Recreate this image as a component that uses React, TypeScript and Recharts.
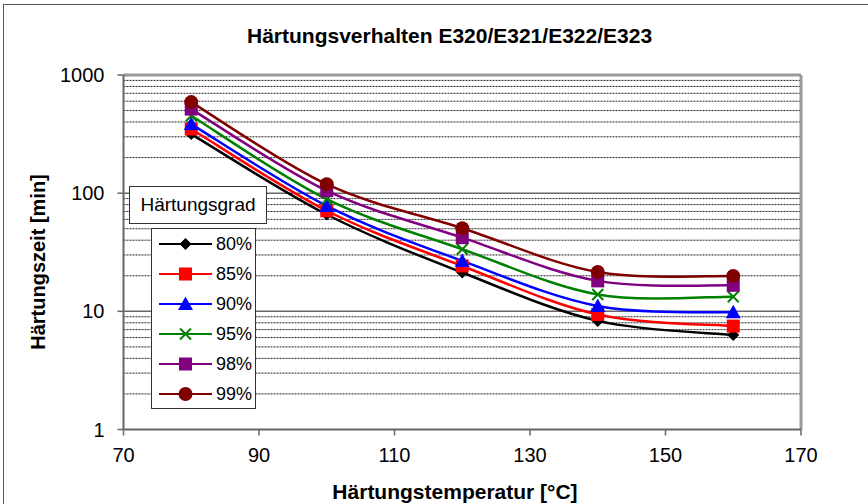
import { LineChart, Line, XAxis, YAxis, ReferenceLine } from "recharts";

const temperatures = [80, 100, 120, 140, 160];
const grad80 = [316, 66, 21.3, 8.3, 6.3];
const grad85 = [349, 71, 24.2, 9.4, 7.5];
const grad90 = [384, 78, 26.7, 11.1, 9.8];
const grad95 = [452, 89, 33.5, 13.9, 13.3];
const grad98 = [515, 105, 42, 18.1, 16.6];
const grad99 = [590, 119, 50.5, 21.5, 19.9];

const xTicks = [70, 90, 110, 130, 150, 170];
const yTicks = [1, 10, 100, 1000];
const majorGrid = [10, 100];
const minorGrid = [
  2, 3, 4, 5, 6, 7, 8, 9, 20, 30, 40, 50, 60, 70, 80, 90, 200, 300, 400, 500,
  600, 700, 800, 900,
];

const series = [
  { key: "g80", name: "80%", values: grad80, color: "#000000", shape: "diamond" },
  { key: "g85", name: "85%", values: grad85, color: "#ff0000", shape: "square" },
  { key: "g90", name: "90%", values: grad90, color: "#0000ff", shape: "triangle" },
  { key: "g95", name: "95%", values: grad95, color: "#008000", shape: "cross" },
  { key: "g98", name: "98%", values: grad98, color: "#800080", shape: "square" },
  { key: "g99", name: "99%", values: grad99, color: "#800000", shape: "circle" },
];

const data = temperatures.map((t, i) => {
  const row: Record<string, number> = { t };
  series.forEach((s) => (row[s.key] = s.values[i]));
  return row;
});

// excel-like smoothing: catmull-rom through the points
function excelSmooth(context: any) {
  let pts: number[][] = [];
  return {
    areaStart() {},
    areaEnd() {},
    lineStart() {
      pts = [];
    },
    point(x: number, y: number) {
      pts.push([+x, +y]);
    },
    lineEnd() {
      const n = pts.length;
      if (!n) return;
      context.moveTo(pts[0][0], pts[0][1]);
      for (let i = 0; i < n - 1; i++) {
        const p0 = pts[Math.max(i - 1, 0)];
        const p1 = pts[i];
        const p2 = pts[i + 1];
        const p3 = pts[Math.min(i + 2, n - 1)];
        context.bezierCurveTo(
          p1[0] + (p2[0] - p0[0]) / 6,
          p1[1] + (p2[1] - p0[1]) / 6,
          p2[0] - (p3[0] - p1[0]) / 6,
          p2[1] - (p3[1] - p1[1]) / 6,
          p2[0],
          p2[1]
        );
      }
    },
  };
}

function Marker({ cx, cy, shape, color }: any) {
  if (cx == null || cy == null) return null;
  switch (shape) {
    case "diamond":
      return (
        <polygon
          points={`${cx},${cy - 6} ${cx + 6},${cy} ${cx},${cy + 6} ${cx - 6},${cy}`}
          fill={color}
        />
      );
    case "square":
      return <rect x={cx - 6.5} y={cy - 6.5} width={13} height={13} fill={color} />;
    case "triangle":
      return (
        <polygon
          points={`${cx},${cy - 7.5} ${cx + 7.5},${cy + 6} ${cx - 7.5},${cy + 6}`}
          fill={color}
        />
      );
    case "cross":
      return (
        <path
          d={`M${cx - 5.5},${cy - 5.5}L${cx + 5.5},${cy + 5.5}M${cx + 5.5},${cy - 5.5}L${cx - 5.5},${cy + 5.5}`}
          stroke={color}
          strokeWidth={2}
          fill="none"
        />
      );
    default:
      return <circle cx={cx} cy={cy} r={7} fill={color} />;
  }
}

const tickFont = { fill: "#000", fontSize: 20, fontFamily: "Liberation Sans" };
const titleFont = {
  fontFamily: "Liberation Sans",
  fontWeight: 700,
  fontSize: 21,
  color: "#000",
  lineHeight: "21px",
  whiteSpace: "nowrap" as const,
};

function LegendBox() {
  return (
    <>
      <div
        style={{
          position: "absolute",
          left: 129,
          top: 186,
          width: 136,
          height: 36,
          border: "1px solid #333",
          background: "#fff",
          fontFamily: "Liberation Sans",
          fontSize: 19,
          lineHeight: "36px",
          textAlign: "center",
        }}
      >
        Härtungsgrad
      </div>
      <div
        style={{
          position: "absolute",
          left: 151,
          top: 228,
          width: 103,
          height: 179,
          border: "1px solid #333",
          background: "#fff",
          fontFamily: "Liberation Sans",
          fontSize: 18,
        }}
      >
        {series.map((s) => (
          <div key={s.key} style={{ display: "flex", alignItems: "center", height: 30 }}>
            <svg width={64} height={30} style={{ display: "block" }}>
              <line x1={7} x2={60} y1={15} y2={15} stroke={s.color} strokeWidth={2} />
              <Marker cx={33.5} cy={15} shape={s.shape} color={s.color} />
            </svg>
            <span>{s.name}</span>
          </div>
        ))}
      </div>
    </>
  );
}

export default function App() {
  return (
    <div
      style={{
        position: "absolute",
        left: 0,
        top: 0,
        width: 868,
        height: 504,
        background: "#fff",
        overflow: "hidden",
      }}
    >
      <div
        style={{
          position: "absolute",
          left: 3,
          top: 4,
          width: 900,
          height: 600,
          borderLeft: "1.5px solid #555",
          borderTop: "1.5px solid #555",
        }}
      />
      <LineChart
        width={868}
        height={504}
        data={data}
        margin={{ top: 75, right: 67, bottom: 0, left: 0 }}
        style={{ position: "absolute", left: 0, top: 0 }}
      >
        <XAxis
          dataKey="t"
          type="number"
          domain={[70, 170]}
          ticks={xTicks}
          allowDataOverflow
          height={74.5}
          tick={tickFont}
          tickSize={6}
          tickMargin={12}
          axisLine={{ stroke: "#666", strokeWidth: 2 }}
          tickLine={{ stroke: "#666", strokeWidth: 1.5 }}
        />
        <YAxis
          type="number"
          scale="log"
          domain={[1, 1000]}
          ticks={yTicks}
          allowDataOverflow
          width={123.5}
          tick={tickFont}
          tickSize={6}
          tickMargin={13}
          axisLine={{ stroke: "#666", strokeWidth: 2 }}
          tickLine={{ stroke: "#666", strokeWidth: 1.5 }}
        />
        {minorGrid.map((v) => (
          <ReferenceLine key={v} y={v} stroke="#222" strokeWidth={1} strokeDasharray="2 1" />
        ))}
        {majorGrid.map((v) => (
          <ReferenceLine key={v} y={v} stroke="#666" strokeWidth={1.5} />
        ))}
        <ReferenceLine y={1000} stroke="#9a9a9a" strokeWidth={3} />
        <ReferenceLine x={170} stroke="#9a9a9a" strokeWidth={3} />
        {series.map((s) => (
          <Line
            key={s.key}
            dataKey={s.key}
            type={excelSmooth as any}
            stroke={s.color}
            strokeWidth={2.5}
            isAnimationActive={false}
            dot={(p: any) => (
              <Marker key={`${s.key}-${p.index}`} cx={p.cx} cy={p.cy} shape={s.shape} color={s.color} />
            )}
            activeDot={false}
          />
        ))}
      </LineChart>
      <div style={{ ...titleFont, position: "absolute", left: 247, width: 400, top: 25, textAlign: "center" }}>
        Härtungsverhalten E320/E321/E322/E323
      </div>
      <div
        style={{
          ...titleFont,
          fontSize: 20,
          lineHeight: "20px",
          position: "absolute",
          left: 38 - 150,
          top: 262 - 10,
          width: 300,
          textAlign: "center",
          transform: "rotate(-90deg)",
        }}
      >
        Härtungszeit [min]
      </div>
      <div style={{ ...titleFont, position: "absolute", left: 305, width: 300, top: 481, textAlign: "center" }}>
        Härtungstemperatur [°C]
      </div>
      <LegendBox />
    </div>
  );
}
